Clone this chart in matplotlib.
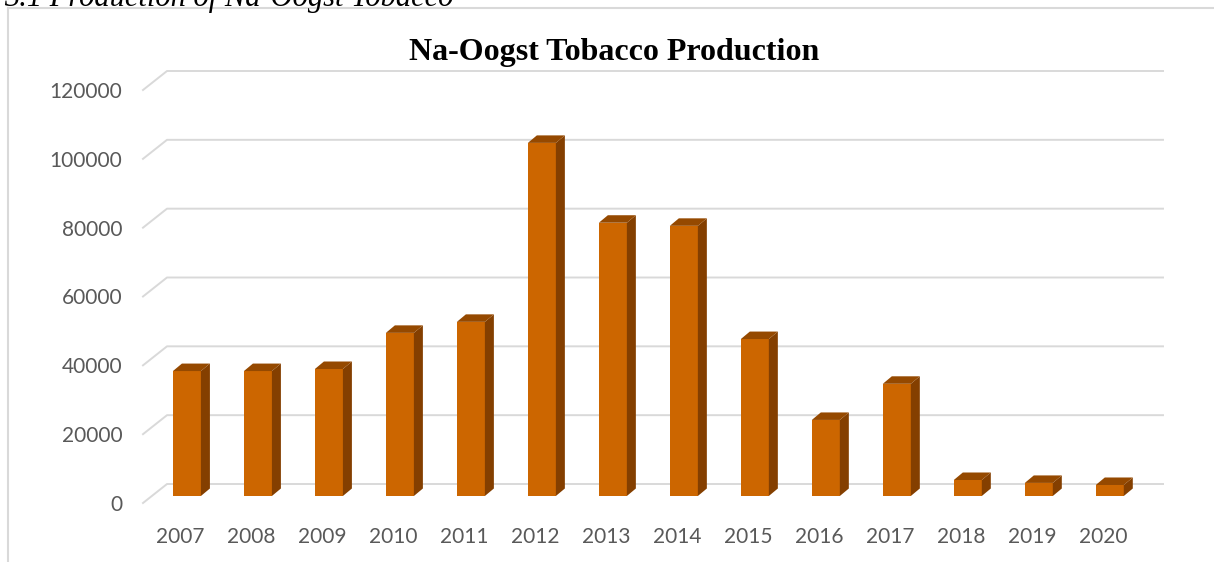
import matplotlib.pyplot as plt
from matplotlib.patches import Polygon
from matplotlib.lines import Line2D

## Data -------------------

years = ["2007", "2008", "2009", "2010", "2011", "2012", "2013",
         "2014", "2015", "2016", "2017", "2018", "2019", "2020"]
production = [36300, 36300, 36900, 47400, 50600, 102600, 79400,
              78500, 45600, 22100, 32600, 4650, 3800, 3200]
y_ticks = [0, 20000, 40000, 60000, 80000, 100000, 120000]

title = "Na-Oogst Tobacco Production"
caption = "3.1 Production of Na-Oogst Tobacco"

## Styles -------------------

front_col = "#cc6600"
side_col = "#843f00"
top_col = "#954900"
grid_col = "#d9d9d9"
label_col = "#595959"

W, H = 1214, 562
fig = plt.figure(figsize=(W / 100, H / 100), dpi=100)

# axes frame = front plane of the 3d box
ax_l, ax_b, ax_w, ax_h = 143, 59, 996, 413
ax = fig.add_axes([ax_l / W, ax_b / H, ax_w / W, ax_h / H])
ax.set_xlim(-0.52, len(years) - 0.49)
ax.set_ylim(0, 120000)

# data units per pixel
x0, x1 = ax.get_xlim()
px_x = (x1 - x0) / ax_w
px_y = 120000 / ax_h

# depth of the box (back wall) and of the bars
back_dx, back_dy = 24 * px_x, 19 * px_y
bar_dx, bar_dy = 7 * px_x, 7 * px_y
depth_dx, depth_dy = 9 * px_x, 7.5 * px_y
bar_w = 28 * px_x

# gridlines on the floor edge + back wall
for v in y_ticks:
    ax.plot([x0, x0 + back_dx, x1 + back_dx],
            [v, v + back_dy, v + back_dy],
            color=grid_col, lw=1.4, clip_on=False, zorder=0)

# bars
xs = [i + bar_dx for i in range(len(years))]
ax.bar(xs, production, width=bar_w, bottom=bar_dy,
       color=front_col, zorder=2, clip_on=False)
for x, v in zip(xs, production):
    r = x + bar_w / 2
    l = x - bar_w / 2
    top = bar_dy + v
    side = Polygon([(r, bar_dy), (r + depth_dx, bar_dy + depth_dy),
                    (r + depth_dx, top + depth_dy), (r, top)],
                   closed=True, facecolor=side_col, edgecolor="none",
                   zorder=2, clip_on=False)
    cap = Polygon([(l, top), (r, top), (r + depth_dx, top + depth_dy),
                   (l + depth_dx, top + depth_dy)],
                  closed=True, facecolor=top_col, edgecolor="none",
                  zorder=2, clip_on=False)
    ax.add_patch(side)
    ax.add_patch(cap)

# axes look
ax.set_xticks(range(len(years)))
ax.set_xticklabels(years)
ax.set_yticks(y_ticks)
ax.set_yticklabels([str(v) for v in y_ticks])
ax.tick_params(axis="x", length=0, pad=17, labelsize=15, labelcolor=label_col)
ax.tick_params(axis="y", length=0, pad=15, labelsize=15, labelcolor=label_col)
for lab in ax.get_xticklabels() + ax.get_yticklabels():
    lab.set_family("Lato")
for s in ax.spines.values():
    s.set_visible(False)
ax.patch.set_alpha(0)

# title
fig.text(614 / W, 1 - 60 / H, title, ha="center", va="baseline",
         fontsize=23, fontweight="bold", family="Liberation Serif")

# chart border (left + top)
fig.add_artist(Line2D([8 / W, 8 / W], [0, 1 - 8 / H], transform=fig.transFigure,
                      color=grid_col, lw=1.5))
fig.add_artist(Line2D([8 / W, 1], [1 - 8 / H, 1 - 8 / H], transform=fig.transFigure,
                      color=grid_col, lw=1.5))

# caption, cut off at the top as in the page crop
fig.text(4 / W, 1 - 6 / H, caption, ha="left", va="baseline",
         fontsize=22, fontstyle="italic", family="Liberation Serif")

fig.savefig("out.png", dpi=100)
